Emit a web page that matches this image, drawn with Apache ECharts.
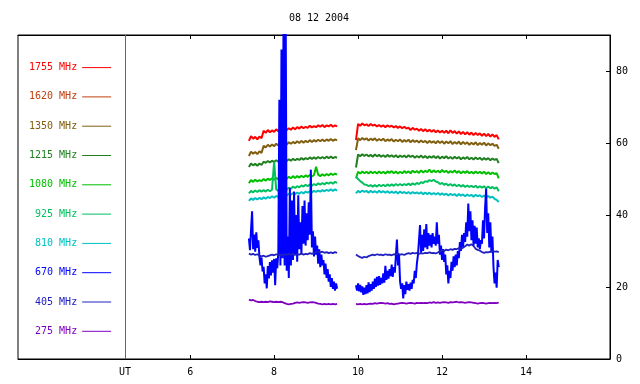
<!DOCTYPE html>
<html><head><meta charset="utf-8">
<script src="https://cdn.jsdelivr.net/npm/echarts@6/dist/echarts.min.js"></script>
<style>html,body{margin:0;padding:0;background:#fff}#c{width:640px;height:384px}</style>
</head><body><div id="c"></div>
<script>
// ---------- data ----------
const chartTitle = '08 12 2004';
const seriesNames = ['1755 MHz','1620 MHz','1350 MHz','1215 MHz','1080 MHz','925 MHz','810 MHz','670 MHz','405 MHz','275 MHz'];
const xTickValues = [6, 8, 10, 12, 14];
const yTickValues = [0, 20, 40, 60, 80];
const utMark = 4.45;          // hour position of the UT separator
const xMin = 1.9, xMax = 16, yMin = 0, yMax = 90;
const startA = 7.40, startB = 9.95, step = 0.05, fineStep = 0.025;

const v1755A = [60.6,61.9,61.2,61.7,61.0,61.8,61.3,63.4,62.8,63.6, 63.0,63.5,63.1,63.8,63.3,63.9,63.5,64.0,63.6,64.1, 63.7,64.3,63.8,64.4,64.0,64.6,64.1,64.5,64.2,64.8, 64.3,64.7,64.4,64.9,64.5,65.0,64.4,64.9,64.6,65.1, 64.5,64.9,64.6];
const v1755B = [60.8,65.3,64.8,65.4,64.9,65.2,64.7,65.3,64.8,65.1, 64.6,65.0,64.5,64.9,64.4,64.9,64.5,64.8,64.3,64.7, 64.2,64.6,64.1,64.5,64.0,64.3,63.6,64.2,63.7,64.0, 63.4,63.9,63.3,63.8,63.2,63.7,63.1,63.6,63.0,63.5, 62.9,63.4,62.8,63.4,62.7,63.5,62.8,63.3,62.6,63.2, 62.5,63.1,62.4,63.0,62.3,62.9,62.2,62.8,62.2,62.7, 62.0,62.6,61.9,62.5,61.8,62.4,61.7,62.2,61.0];
const v1620A = [];
const v1620B = [];
const v1350A = [56.4,57.6,57.0,57.5,56.9,57.7,57.2,59.2,58.8,59.5, 59.0,59.6,59.1,59.8,59.3,59.9,59.5,60.1,59.6,60.2, 59.8,60.3,59.9,60.5,60.0,60.6,60.1,60.6,60.2,60.8, 60.3,60.8,60.4,60.9,60.5,61.0,60.5,61.0,60.6,61.1, 60.6,61.0,60.7];
const v1350B = [58.0,61.3,60.8,61.4,60.9,61.3,60.7,61.2,60.8,61.3, 60.6,61.1,60.7,61.2,60.5,61.0,60.6,61.1,60.4,60.9, 60.5,61.0,60.3,60.8,60.4,60.9,60.2,60.8,60.3,60.7, 60.1,60.7,60.2,60.6,60.0,60.6,60.1,60.5,59.9,60.6, 60.0,60.5,59.8,60.4,59.9,60.5,59.7,60.3,59.8,60.4, 59.6,60.3,59.7,60.2,59.5,60.1,59.6,60.2,59.4,60.0, 59.5,60.1,59.3,59.9,59.4,59.8,59.2,59.5,58.4];
const v1215A = [53.3,54.3,53.8,54.2,53.7,54.3,53.9,54.8,54.5,55.0, 54.6,55.1,54.7,55.2,54.8,55.3,54.9,55.4,55.0,55.5, 55.1,55.6,55.2,55.6,55.3,55.8,55.4,55.8,55.5,56.0, 55.6,56.0,55.6,56.1,55.7,56.1,55.7,56.2,55.8,56.2, 55.8,56.1,55.9];
const v1215B = [53.2,56.8,56.3,56.9,56.4,56.8,56.3,56.7,56.2,56.8, 56.3,56.7,56.2,56.6,56.1,56.7,56.2,56.6,56.1,56.6, 56.0,56.5,56.1,56.5,56.0,56.6,56.1,56.5,55.9,56.4, 56.0,56.5,55.9,56.4,55.8,56.3,55.9,56.4,55.8,56.3, 55.7,56.2,55.8,56.3,55.7,56.1,55.6,56.2,55.7,56.1, 55.5,56.0,55.6,56.1,55.5,55.9,55.4,56.0,55.5,55.9, 55.3,55.8,55.4,55.8,55.2,55.7,55.3,55.6,54.4];
const v1080A = [48.8,49.7,49.2,49.8,49.3,49.7,49.4,50.0,49.5,50.1, 49.7,50.2,49.8,50.3,49.9,50.4,50.0,50.5,50.1,50.6, 50.2,50.8,50.3,50.8,50.4,50.9,50.5,51.0,50.6,51.1, 50.7,51.1,53.4,51.2,50.8,51.3,50.9,51.4,51.0,51.5, 51.1,51.5,51.2];
const v1080B = [50.2,52.0,51.5,52.1,51.6,52.0,51.5,52.1,51.6,52.0, 51.5,52.1,51.6,52.0,51.5,52.1,51.7,52.2,51.6,52.1, 51.5,52.0,51.6,52.2,51.7,52.1,51.6,52.3,51.8,52.2, 51.7,52.4,51.8,52.3,51.9,52.6,51.8,52.4,51.9,52.3, 51.8,52.5,51.9,52.3,51.7,52.2,51.8,52.4,51.7,52.2, 51.6,52.1,51.7,52.2,51.6,52.0,51.5,52.1,51.6,52.0, 51.5,52.0,51.4,51.9,51.3,51.8,51.4,51.6,50.2];
const v925A = [46.0,46.7,46.3,46.8,46.4,46.9,46.5,46.9,46.5,47.0, 46.6,47.0,54.8,47.1,46.7,47.2,46.9,47.4,47.1,47.6, 47.3,47.9,47.5,48.0,47.7,48.2,47.9,48.4,48.0,48.5, 48.1,48.6,48.3,48.8,48.4,48.9,48.5,49.0,48.7,49.1, 48.7,49.2,48.9];
const v925B = [50.6,50.0,49.4,49.0,48.5,48.4,48.0,48.3,47.9,48.3, 47.9,48.4,48.0,48.4,48.0,48.5,48.1,48.5,48.1,48.6, 48.2,48.6,48.2,48.6,48.3,48.7,48.3,48.8,48.4,48.9, 48.6,49.1,48.9,49.4,49.2,49.7,49.4,49.8,49.3,49.1, 48.6,48.9,48.4,48.7,48.2,48.6,48.1,48.5,48.0,48.4, 47.9,48.3,47.8,48.2,47.8,48.1,47.7,48.1,47.6,48.0, 47.6,48.0,47.4,47.9,47.4,47.8,47.3,47.7,46.6];
const v810A = [43.9,44.6,44.2,44.7,44.3,44.8,44.4,44.9,44.5,45.0, 44.7,45.2,44.8,45.3,45.0,45.5,45.2,45.7,45.4,45.9, 45.6,46.1,45.8,46.2,45.9,46.4,46.0,46.5,46.2,46.6, 46.3,46.7,46.4,46.8,46.5,46.9,46.6,47.0,46.7,47.1, 46.7,47.1,46.8];
const v810B = [46.0,46.7,46.3,46.8,46.4,46.7,46.2,46.7,46.3,46.6, 46.2,46.7,46.3,46.6,46.2,46.6,46.1,46.5,46.1,46.5, 46.0,46.5,46.1,46.4,46.0,46.4,45.9,46.4,46.0,46.3, 45.9,46.3,45.8,46.2,45.8,46.2,45.7,46.1,45.7,46.1, 45.6,46.0,45.6,45.9,45.4,45.9,45.5,45.8,45.3,45.8, 45.4,45.7,45.2,45.7,45.3,45.6,45.1,45.6,45.2,45.5, 45.0,45.4,44.9,45.3,44.8,45.1,44.5,44.2,43.6];
const v670A = [33.5,30.2,35.8,41.0,30.5,34.6,29.8,35.2,30.9,33.0, 28.4,26.0,28.2,24.3,25.6,21.0,23.5,19.6,25.8,22.4, 26.9,23.2,27.4,24.0,27.8,20.5,28.0,25.2,29.5,72.0, 26.0,86.0,28.0,98.0,26.0,98.0,24.5,34.0,22.5,47.5, 26.0,44.0,27.5,46.5,29.0,40.0,27.0,45.5,30.5,38.0, 29.0,42.5,32.0,44.0,31.5,40.5,33.0,43.5,34.5,52.6, 31.0,35.5,28.5,34.0,29.0,31.5,26.5,30.5,25.5,29.0, 26.0,27.5,23.5,26.5,22.5,25.0,21.5,23.5,20.0,22.5, 19.5,21.5,19.0,21.0,19.5];
const v670B = [20.5,19.0,21.0,18.8,20.6,18.5,20.2,17.8,19.8,18.0, 20.5,18.2,21.3,18.6,20.8,19.0,21.5,19.5,22.3,20.0, 22.8,20.4,23.0,20.6,22.5,21.0,23.8,21.2,25.9,22.0, 24.5,22.3,25.0,23.0,26.2,22.8,25.5,24.0,28.5,33.2, 26.0,29.0,21.5,19.5,21.0,16.8,20.5,18.0,21.5,19.2, 20.8,19.0,21.2,19.5,22.0,21.0,24.5,22.5,26.5,28.8, 33.0,37.2,29.5,34.5,30.0,36.0,31.0,37.5,30.5,35.0, 31.5,34.5,31.0,35.0,32.0,34.0,31.5,38.0,32.0,34.5, 29.0,31.5,27.5,30.5,27.0,29.0,23.5,26.0,21.0,24.5, 22.5,27.0,24.5,28.5,25.5,29.0,26.0,30.0,28.0,32.5, 30.0,34.5,31.0,35.0,32.5,38.0,34.0,43.2,35.5,41.0, 33.0,38.5,31.5,37.0,32.0,36.5,31.0,33.5,30.5,33.0, 32.0,38.5,33.5,42.0,47.3,35.0,40.5,31.0,38.0,29.5, 34.0,25.5,21.0,24.0,19.8,27.5,25.5];
const v405A = [29.3,29.0,29.2,28.9,29.1,28.7,28.5,28.7,28.4,28.6, 28.8,29.0,28.8,29.1,28.9,29.0,28.8,29.1,28.9,29.2, 29.0,29.2,28.9,29.1,29.0,29.3,29.0,29.2,29.1,29.4, 29.2,29.5,29.6,29.8,29.6,29.8,29.5,29.7,29.4,29.6, 29.4,29.7,29.5];
const v405B = [29.0,28.6,28.3,28.1,28.4,28.2,28.6,28.8,29.0,28.8, 29.1,28.9,29.0,28.8,29.1,28.9,29.0,28.8,29.1,29.0, 29.2,29.0,29.1,28.9,29.2,29.4,29.2,29.5,29.3,29.5, 29.2,29.4,29.3,29.5,29.4,29.6,29.4,29.5,29.3,29.6, 29.9,30.2,30.0,30.4,30.2,30.5,30.3,30.6,30.5,30.8, 30.6,30.9,31.3,31.8,31.5,31.9,31.4,30.6,30.3,30.1, 29.7,29.5,29.7,29.6,29.8,30.0,29.8,29.9,29.7];
const v275A = [16.5,16.3,16.4,16.1,15.9,15.8,15.9,15.8,15.9,15.8, 16.0,15.9,15.8,15.9,15.8,15.9,15.8,15.5,15.3,15.2, 15.3,15.4,15.6,15.7,15.6,15.7,15.8,15.7,15.6,15.7, 15.8,15.7,15.6,15.4,15.3,15.2,15.3,15.2,15.3,15.2, 15.3,15.2,15.3];
const v275B = [15.3,15.2,15.3,15.2,15.3,15.2,15.3,15.4,15.3,15.5, 15.4,15.5,15.6,15.5,15.4,15.5,15.3,15.4,15.2,15.3, 15.4,15.5,15.6,15.5,15.4,15.5,15.6,15.5,15.4,15.6, 15.5,15.6,15.5,15.6,15.5,15.7,15.6,15.8,15.6,15.7, 15.6,15.7,15.8,15.7,15.6,15.8,15.7,15.8,15.9,15.7, 15.8,15.7,15.6,15.7,15.8,15.7,15.6,15.5,15.4,15.5, 15.6,15.5,15.4,15.5,15.6,15.5,15.6,15.5,15.7];

// ---------- styles ----------
const colors = ['#ff0000','#c04010','#806010','#208020','#00c000','#00c060','#00c0c0','#0000ff','#2020c0','#8000c0'];
const widths = [2, 2, 2, 2, 2, 2, 2, 2, 1.8, 1.8];
const valuesA = [v1755A,v1620A,v1350A,v1215A,v1080A,v925A,v810A,v670A,v405A,v275A];
const valuesB = [v1755B,v1620B,v1350B,v1215B,v1080B,v925B,v810B,v670B,v405B,v275B];
const stepsBy = [step,step,step,step,step,step,step,fineStep,step,step];
const FONT = 'DejaVu Sans Mono';

function pairs(start, st, vals) {
  return vals.map((v, i) => [+(start + st * i).toFixed(4), v]);
}

const series = seriesNames.map((name, k) => {
  const a = pairs(startA, stepsBy[k], valuesA[k]);
  const b = pairs(startB, stepsBy[k], valuesB[k]);
  const data = a.length ? a.concat([[9.72, null]], b) : [];
  const s = {
    name, type: 'line', data, symbol: 'none', showSymbol: false,
    connectNulls: false, clip: true,
    lineStyle: { color: colors[k], width: widths[k] },
    itemStyle: { color: colors[k] },
    emphasis: { disabled: true }
  };
  if (k === 0) {
    s.markLine = {
      silent: true, symbol: 'none', label: { show: false },
      lineStyle: { color: '#666', type: 'solid', width: 1 },
      emphasis: { disabled: true },
      data: [{ xAxis: utMark }]
    };
  }
  return s;
});

const chart = echarts.init(document.getElementById('c'), null, { renderer: 'canvas' });
chart.setOption({
  animation: false,
  backgroundColor: '#fff',
  title: {
    text: chartTitle, left: 314, top: 8, textAlign: 'center',
    textStyle: { fontFamily: FONT, fontSize: 10, fontWeight: 'normal', color: '#000' }
  },
  legend: {
    orient: 'vertical', left: 29, top: 62, padding: 0, align: 'right',
    itemWidth: 29, itemHeight: 14, itemGap: 18.1,
    selectedMode: false,
    itemStyle: { opacity: 0 },
    lineStyle: { width: 1 },
    data: seriesNames.map((n, k) => ({ name: n, textStyle: { color: colors[k], fontFamily: FONT, fontSize: 10 } }))
  },
  grid: { left: 18, right: 30, top: 35, bottom: 25, show: true, borderColor: '#000', borderWidth: 1, backgroundColor: 'transparent', containLabel: false },
  xAxis: [{
    type: 'value', min: xMin, max: xMax, position: 'bottom',
    axisLine: { show: true, lineStyle: { color: '#000', width: 1 } },
    axisTick: { show: true, inside: true, length: 4, lineStyle: { color: '#000' }, customValues: xTickValues },
    axisLabel: {
      show: true, margin: 8, color: '#000', fontFamily: FONT, fontSize: 10,
      customValues: [utMark].concat(xTickValues),
      formatter: v => (Math.abs(v - utMark) < 0.01 ? 'UT' : String(v))
    },
    splitLine: { show: false }
  }, {
    type: 'value', min: xMin, max: xMax, position: 'top',
    axisLine: { show: true, lineStyle: { color: '#000', width: 1 } },
    axisTick: { show: true, inside: true, length: 4, lineStyle: { color: '#000' }, customValues: xTickValues },
    axisLabel: { show: false },
    splitLine: { show: false }
  }],
  yAxis: [{
    type: 'value', min: yMin, max: yMax, position: 'right',
    axisLine: { show: true, lineStyle: { color: '#000', width: 1 } },
    axisTick: { show: true, inside: true, length: 4, lineStyle: { color: '#000' }, customValues: yTickValues },
    axisLabel: { show: true, margin: 6, color: '#000', fontFamily: FONT, fontSize: 10, customValues: yTickValues },
    splitLine: { show: false }
  }],
  series
});
</script></body></html>
